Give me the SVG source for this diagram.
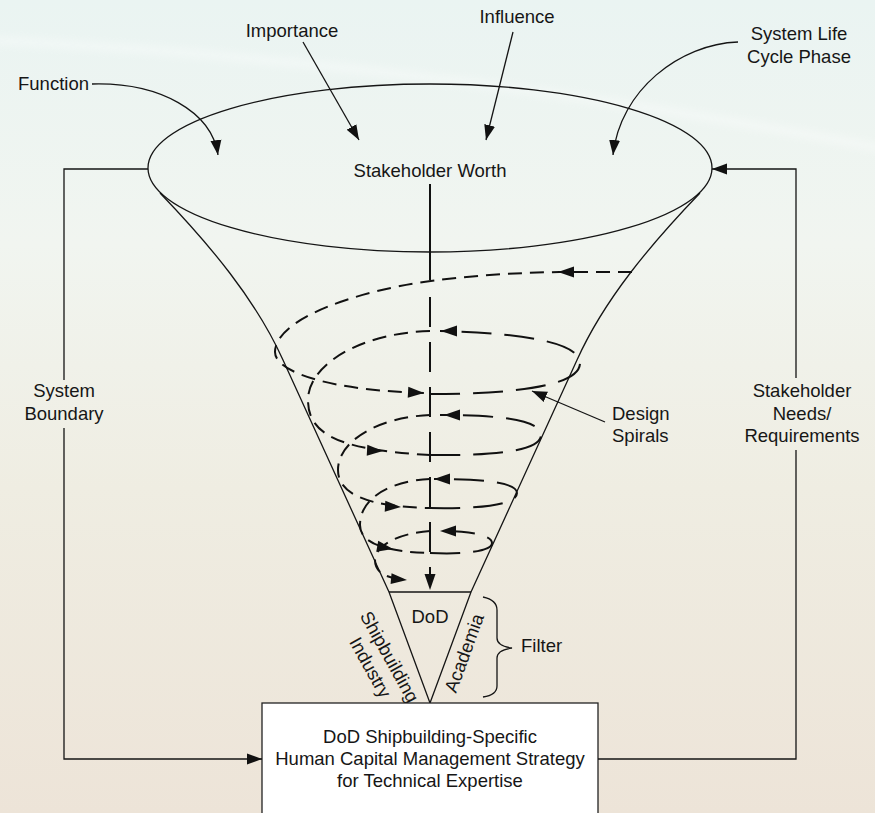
<svg xmlns="http://www.w3.org/2000/svg" xmlns:xlink="http://www.w3.org/1999/xlink" width="875" height="813" viewBox="0 0 875 813">
  <defs>
    <linearGradient id="bg" x1="0" y1="0" x2="0" y2="1">
      <stop offset="0" stop-color="#eaf4f2"/>
      <stop offset="0.3" stop-color="#f1f5f0"/>
      <stop offset="0.6" stop-color="#efede2"/>
      <stop offset="1" stop-color="#ede4d8"/>
    </linearGradient>
    <filter id="soft" x="-10%" y="-50%" width="120%" height="200%">
      <feGaussianBlur stdDeviation="4"/>
    </filter>
    <marker id="arrow" markerWidth="16" markerHeight="12" refX="15" refY="6" orient="auto" markerUnits="userSpaceOnUse">
      <path d="M0,0.5 L15,6 L0,11.5 Z" fill="#111"/>
    </marker>
    <!-- arrowhead placed along the spiral, tip at origin pointing +x -->
    <path id="ah" d="M0,0 L-16,-5.5 L-16,5.5 Z" fill="#111"/>
    <style>
      text { font-family: "Liberation Sans", Arial, sans-serif; font-size: 18.5px; fill: #161616; }
      .mid { text-anchor: middle; }
      .thin { fill: none; stroke: #151515; stroke-width: 1.3; }
      .conn { fill: none; stroke: #151515; stroke-width: 1.3; }
      .short { fill: none; stroke: #111; stroke-width: 2; stroke-dasharray: 14 8; }
      .long { fill: none; stroke: #111; stroke-width: 2; stroke-dasharray: 30 13; }
    </style>
  </defs>

  <!-- backdrop -->
  <rect width="875" height="813" fill="url(#bg)"/>
  <path d="M-20,40 Q420,60 890,150" fill="none" stroke="#ffffff" stroke-width="7" opacity="0.4" filter="url(#soft)"/>

  <!-- upper ellipse -->
  <g id="stakeholder-worth">
    <ellipse cx="430" cy="168" rx="282" ry="84" class="thin"/>
    <text x="430" y="177" class="mid">Stakeholder Worth</text>
  </g>

  <!-- funnel walls -->
  <g id="funnel">
    <path d="M700,193 C650,245 604,300 577,360 L471,592 L430,703" class="thin"/>
    <path d="M160,193 C210,245 256,300 283,360 L389,592 L430,703" class="thin"/>
  </g>

  <!-- filter triangle -->
  <g id="dod-filter">
    <line x1="389" y1="592" x2="471" y2="592" class="thin"/>
    <text x="430" y="623" class="mid">DoD</text>
    <g transform="translate(380,662) rotate(61)">
      <text x="0" y="-4.5" class="mid">Shipbuilding</text>
      <text x="0" y="17.5" class="mid">Industry</text>
    </g>
    <g transform="translate(464,653) rotate(-70)">
      <text x="0" y="6.5" class="mid">Academia</text>
    </g>
    <path d="M483,597 Q497,600 497,610 L497,638 Q497,646 512,648 Q497,650 497,658 L497,686 Q497,695 483,697" class="thin"/>
    <text x="521" y="652">Filter</text>
  </g>

  <!-- strategy box -->
  <g id="hcm-strategy">
    <rect x="262" y="703" width="336" height="130" fill="#ffffff" stroke="#222" stroke-width="1.3"/>
    <text x="430" y="743" class="mid">DoD Shipbuilding-Specific</text>
    <text x="430" y="765" class="mid">Human Capital Management Strategy</text>
    <text x="430" y="787" class="mid">for Technical Expertise</text>
  </g>

  <!-- influence labels -->
  <g id="label-function"><text x="18" y="90">Function</text></g>
  <g id="label-importance"><text x="292" y="37" class="mid">Importance</text></g>
  <g id="label-influence"><text x="517" y="23" class="mid">Influence</text></g>
  <g id="label-lifecycle">
    <text x="799" y="40" class="mid">System Life</text>
    <text x="799" y="63" class="mid">Cycle Phase</text>
  </g>
  <g id="label-boundary">
    <text x="64" y="397" class="mid">System</text>
    <text x="64" y="420" class="mid">Boundary</text>
  </g>
  <g id="label-needs">
    <text x="802" y="397" class="mid">Stakeholder</text>
    <text x="802" y="420" class="mid">Needs/</text>
    <text x="802" y="442" class="mid">Requirements</text>
  </g>
  <g id="label-spirals">
    <text x="612" y="420">Design</text>
    <text x="612" y="442">Spirals</text>
  </g>

  <g id="connectors">
    <!-- inputs into the ellipse -->
    <path d="M92,84 C160,82 212,112 218,155" class="conn" marker-end="url(#arrow)"/>
    <path d="M303,42 L359,140" class="conn" marker-end="url(#arrow)"/>
    <path d="M513,32 L486,140" class="conn" marker-end="url(#arrow)"/>
    <path d="M738,42 C680,44 620,90 613,155" class="conn" marker-end="url(#arrow)"/>

    <!-- system boundary loop -->
    <path d="M148,169 H64 V380" class="conn"/>
    <path d="M64,428 V759 H262" class="conn" marker-end="url(#arrow)"/>

    <!-- stakeholder needs loop -->
    <path d="M598,759 H796 V450" class="conn"/>
    <path d="M796,378 V169 H712" class="conn" marker-end="url(#arrow)"/>

    <!-- design spiral pointer -->
    <path d="M605,422 L532,391" class="conn" marker-end="url(#arrow)"/>

    <!-- central axis -->
    <line x1="430" y1="184" x2="430" y2="280" stroke="#111" stroke-width="2"/>
    <line x1="430" y1="297" x2="430" y2="574" stroke="#111" stroke-width="2" stroke-dasharray="30 15"/>
    <use xlink:href="#ah" transform="translate(430,590) rotate(90)"/>

    <!-- spiral: back/left halves -->
    <path d="M632,272 L560,272 C500,273 440,278 400,286 C330,300 275,325 275,352 C275,372 330,391 428,393" class="short"/>
    <path d="M430,331 C360,333 308,365 308,400 C308,435 340,450 430,455" class="short"/>
    <path d="M430,415 C380,417 338,440 338,470 C338,495 370,507 430,508" class="short"/>
    <path d="M430,479 C390,481 360,498 360,525 C360,545 390,552 430,553" class="short"/>
    <path d="M430,531 C400,533 375,545 375,560 C375,572 385,578 405,580" class="short"/>

    <!-- spiral: front/right halves -->
    <path d="M430,394 C520,394 580,385 580,363 C580,342 520,333 440,331" class="long"/>
    <path d="M430,455 C500,456 541,450 541,435 C541,420 500,415 440,415" class="long"/>
    <path d="M430,508 C480,509 517,505 517,493 C517,482 480,479 434,479" class="long"/>
    <path d="M430,553 C470,555 492,550 492,543 C492,535 470,531 438,531" class="long"/>

    <!-- spiral direction arrowheads -->
    <use xlink:href="#ah" transform="translate(558,272) rotate(180)"/>
    <use xlink:href="#ah" transform="translate(424,393) rotate(3)"/>
    <use xlink:href="#ah" transform="translate(441,331) rotate(180)"/>
    <use xlink:href="#ah" transform="translate(383,451) rotate(3)"/>
    <use xlink:href="#ah" transform="translate(444,415) rotate(180)"/>
    <use xlink:href="#ah" transform="translate(401,507) rotate(3)"/>
    <use xlink:href="#ah" transform="translate(434,479) rotate(180)"/>
    <use xlink:href="#ah" transform="translate(393,549) rotate(10)"/>
    <use xlink:href="#ah" transform="translate(440,531) rotate(180)"/>
    <use xlink:href="#ah" transform="translate(407,580) rotate(5)"/>
  </g>
</svg>
